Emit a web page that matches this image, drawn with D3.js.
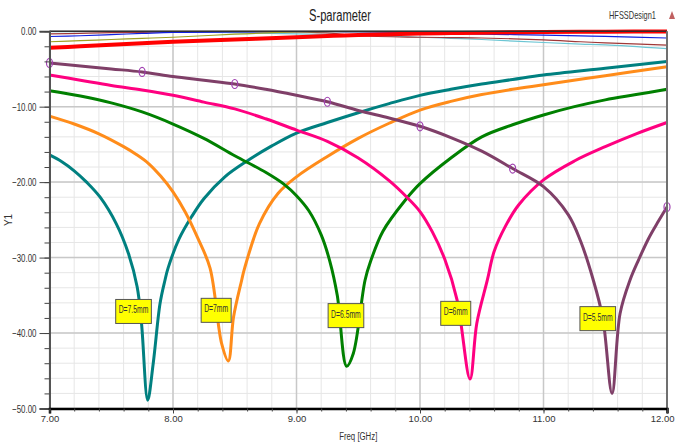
<!DOCTYPE html>
<html><head><meta charset="utf-8">
<script src="https://cdn.jsdelivr.net/npm/d3@7"></script>
<style>
body{margin:0;background:#fff;}
text{font-family:'Liberation Sans',Arial,sans-serif;}
</style></head>
<body><svg id="c" width="676" height="443"></svg>
<script>
// ---------- data ----------
const xTicks = [7, 8, 9, 10, 11, 12];
const yTicks = [0, -10, -20, -30, -40, -50];
const title = "S-parameter";
const designName = "HFSSDesign1";
const xLabel = "Freq [GHz]";
const yLabel = "Y1";

// D = 7.5 mm (teal)
const f75 = [7.0,7.1,7.2,7.3,7.41,7.54,7.64,7.71,7.745,7.795,7.84,7.895,7.935,7.96,8.05,8.15,8.25,8.42,8.6,8.8,9.0,9.25,9.5,9.75,10.0,10.25,10.5,10.75,11.0,11.5,12.0];
const s75 = [-16.4,-17.3,-18.5,-20.0,-22.0,-25.5,-29.5,-33.9,-38.7,-48.9,-44.0,-36.1,-33.0,-31.4,-27.5,-24.6,-22.2,-19.3,-17.2,-15.2,-13.5,-12.1,-10.8,-9.6,-8.5,-7.7,-7.0,-6.4,-5.8,-4.9,-4.0];
// D = 7 mm (orange)
const f70 = [7.0,7.2,7.4,7.6,7.7,7.8,7.9,8.0,8.1,8.2,8.3,8.394,8.448,8.49,8.556,8.58,8.7,8.85,9.0,9.25,9.5,9.75,10.0,10.25,10.5,10.75,11.0,11.5,12.0];
const s70 = [-11.25,-12.3,-13.6,-15.3,-16.3,-17.5,-19.2,-21.3,-24.0,-27.4,-31.4,-41.4,-43.7,-37.9,-33.0,-31.4,-25.5,-21.5,-19.3,-16.6,-14.2,-12.2,-10.45,-9.3,-8.4,-7.7,-7.1,-5.9,-4.7];
// D = 6.5 mm (green)
const f65 = [7.0,7.25,7.5,7.75,8.0,8.25,8.5,8.75,8.9,9.0,9.1,9.2,9.27,9.33,9.406,9.46,9.555,9.6,9.7,9.88,10.0,10.25,10.5,10.75,11.0,11.25,11.5,11.75,12.0];
const s65 = [-7.9,-8.6,-9.5,-10.7,-12.3,-14.2,-16.5,-18.7,-20.3,-21.8,-23.8,-27.0,-30.5,-35.0,-44.4,-42.7,-33.0,-30.5,-26.5,-22.4,-20.2,-16.8,-14.0,-12.4,-11.1,-10.0,-9.1,-8.4,-7.7];
// D = 6 mm (pink)
const f60 = [7.0,7.25,7.5,7.75,8.0,8.25,8.5,8.75,9.0,9.25,9.5,9.75,9.9,10.0,10.1,10.2,10.3,10.405,10.46,10.545,10.6,10.69,10.8,11.0,11.25,11.5,11.75,12.0];
const s60 = [-5.8,-6.5,-7.2,-7.8,-8.5,-9.4,-10.3,-11.6,-13.1,-14.6,-16.8,-19.8,-22.1,-23.9,-26.6,-30.2,-35.6,-46.1,-38.7,-33.0,-29.2,-25.9,-23.0,-19.7,-17.2,-15.3,-13.6,-12.1];
// D = 5.5 mm (purple)
const f55 = [7.0,7.25,7.5,7.75,8.0,8.25,8.5,8.75,9.0,9.25,9.5,9.75,10.0,10.25,10.5,10.75,11.0,11.2,11.3,11.4,11.48,11.555,11.62,11.7,11.77,11.85,11.93,12.0];
const s55 = [-4.2,-4.6,-5.0,-5.4,-6.0,-6.5,-7.0,-7.7,-8.5,-9.35,-10.5,-11.5,-12.6,-14.1,-15.9,-18.2,-20.6,-24.3,-27.8,-32.8,-38.0,-48.0,-37.4,-33.0,-30.3,-27.5,-25.2,-23.3];
const markF55 = [7.0, 7.75, 8.5, 9.25, 10.0, 10.75, 12.0];

// thin near-0 traces
const fThin = [7.0,7.25,7.5,7.75,8.0,8.5,9.0,9.3,9.5,10.0,10.25,10.5,11.0,11.3,11.5,12.0];
const sRed   = [-2.2,-2.0,-1.8,-1.6,-1.4,-1.1,-0.8,-0.6,-0.5,-0.3,-0.25,-0.2,-0.1,-0.08,-0.06,-0.05];
const sOlive = [-1.4,-1.25,-1.1,-0.95,-0.8,-0.4,-0.1,-0.05,-0.05,-0.05,-0.05,-0.05,-0.05,-0.05,-0.05,-0.05];
const sBlue  = [-0.7,-0.6,-0.45,-0.3,-0.15,-0.1,-0.05,-0.07,-0.1,-0.2,-0.3,-0.38,-0.52,-0.62,-0.68,-0.9];
const sBrown = [-0.35,-0.28,-0.2,-0.15,-0.1,-0.05,-0.1,-0.3,-0.6,-0.8,-0.85,-0.9,-1.15,-1.4,-1.55,-1.85];
const sCyan  = [-0.05,-0.06,-0.07,-0.08,-0.1,-0.2,-0.35,-0.45,-0.5,-0.8,-0.95,-1.1,-1.5,-1.7,-1.8,-2.3];

const labelText = ["D=7.5mm","D=7mm","D=6.5mm","D=6mm","D=5.5mm"];
const labelF = [7.536, 8.228, 9.256, 10.168, 11.295];
const labelDb = [-35.55, -35.4, -36.1, -35.8, -36.5];

// ---------- drawing ----------
const svg = d3.select("#c");
const x = d3.scaleLinear().domain([7, 12]).range([49.5, 667]);
const y = d3.scaleLinear().domain([-50, 0]).range([408.5, 31.2]);
const narrow = (sel, k) => sel.each(function() {
  const w = this.getComputedTextLength();
  d3.select(this).attr("textLength", w * k).attr("lengthAdjust", "spacingAndGlyphs");
});

// grid
const g = svg.append("g");
const minorX = d3.range(7, 12.001, 0.2).map(v => +v.toFixed(1));
const minorY = d3.range(-50, 0.001, 2);
g.selectAll(".mx").data(minorX).join("line")
  .attr("x1", d => x(d)).attr("x2", d => x(d)).attr("y1", y(0)).attr("y2", y(-50))
  .attr("stroke", "#e6e6e6").attr("stroke-width", 1);
g.selectAll(".my").data(minorY).join("line")
  .attr("y1", d => y(d)).attr("y2", d => y(d)).attr("x1", x(7)).attr("x2", x(12))
  .attr("stroke", "#e6e6e6").attr("stroke-width", 1);
g.selectAll(".Mx").data(xTicks).join("line")
  .attr("x1", d => x(d)).attr("x2", d => x(d)).attr("y1", y(0)).attr("y2", y(-50))
  .attr("stroke", "#c8c8c8").attr("stroke-width", 1.5);
g.selectAll(".My").data(yTicks).join("line")
  .attr("y1", d => y(d)).attr("y2", d => y(d)).attr("x1", x(7)).attr("x2", x(12))
  .attr("stroke", "#c8c8c8").attr("stroke-width", 1.5);

// curves
const line = d3.line().x(d => x(d[0])).y(d => y(d[1])).curve(d3.curveCatmullRom.alpha(0.5));
const zip = (a, b) => a.map((v, i) => [v, b[i]]);
const traces = [
  {f: fThin, s: sCyan, c: "#6cc6d4", w: 1.2},
  {f: fThin, s: sBrown, c: "#a03838", w: 1.2},
  {f: fThin, s: sBlue, c: "#1020e0", w: 1.2},
  {f: fThin, s: sOlive, c: "#a0a020", w: 1.2},
  {f: fThin, s: sRed, c: "#ff0000", w: 4},
  {f: f75, s: s75, c: "#008080", w: 3},
  {f: f70, s: s70, c: "#ff8c1a", w: 3},
  {f: f65, s: s65, c: "#008000", w: 3},
  {f: f60, s: s60, c: "#ff0080", w: 3},
  {f: f55, s: s55, c: "#7f3f68", w: 3}
];
const cg = svg.append("g");
traces.forEach(t => {
  cg.append("path").datum(zip(t.f, t.s)).attr("d", line)
    .attr("fill", "none").attr("stroke", t.c).attr("stroke-width", t.w)
    .attr("stroke-linejoin", "round");
});
// markers on D=5.5mm trace
const interp = (fa, sa, f) => {
  for (let i = 0; i < fa.length - 1; i++) {
    if (f >= fa[i] && f <= fa[i + 1]) {
      const t = (f - fa[i]) / (fa[i + 1] - fa[i]);
      return sa[i] + t * (sa[i + 1] - sa[i]);
    }
  }
  return sa[sa.length - 1];
};
cg.selectAll(".mk").data(markF55).join("ellipse")
  .attr("cx", d => x(d)).attr("cy", d => y(interp(f55, s55, d)))
  .attr("rx", 3).attr("ry", 4.5)
  .attr("fill", "none").attr("stroke", "#a040b0").attr("stroke-width", 1.2);

// frame
svg.append("line").attr("x1", x(7)).attr("x2", x(12)).attr("y1", y(0)).attr("y2", y(0))
  .attr("stroke", "#303030").attr("stroke-width", 1.5);
svg.append("line").attr("x1", x(12)).attr("x2", x(12)).attr("y1", y(0)).attr("y2", y(-50))
  .attr("stroke", "#707070").attr("stroke-width", 2);

// axes
const fmt = d3.format(".2f");
const yAx = svg.append("g").attr("transform", `translate(${x(7)},0)`)
  .call(d3.axisLeft(y).tickValues(yTicks).tickFormat(fmt).tickSize(10).tickPadding(3));
const yMin = svg.append("g").attr("transform", `translate(${x(7)},0)`)
  .call(d3.axisLeft(y).tickValues(minorY).tickFormat("").tickSize(5));
const xAx = svg.append("g").attr("transform", `translate(0,${y(-50)})`)
  .call(d3.axisBottom(x).tickValues(xTicks).tickFormat(fmt).tickSize(5).tickPadding(2));
const xMin = svg.append("g").attr("transform", `translate(0,${y(-50)})`)
  .call(d3.axisBottom(x).tickValues(minorX).tickFormat("").tickSize(3));
[yAx, yMin, xAx, xMin].forEach(a => {
  a.selectAll("text").attr("font-size", 11).attr("fill", "#333")
    .style("font-family", "'Liberation Sans',Arial,sans-serif");
  a.selectAll("line").attr("stroke", "#444");
});
narrow(yAx.selectAll("text"), 0.72);
xAx.selectAll("text").attr("font-size", 9.5);
xAx.selectAll(".tick text").filter(d => d === 12).attr("text-anchor", "end").attr("dx", 7);
yAx.select(".domain").attr("stroke", "#555").attr("stroke-width", 2);
yMin.select(".domain").remove();
xMin.select(".domain").remove();
xAx.select(".domain").attr("stroke", "#000").attr("stroke-width", 2.5);

// labels
const tt = svg.append("text").attr("x", 340).attr("y", 21).attr("text-anchor", "middle")
  .attr("font-size", 16).attr("fill", "#222").text(title);
tt.attr("textLength", 62).attr("lengthAdjust", "spacingAndGlyphs");
svg.append("text").attr("x", 609).attr("y", 19)
  .attr("font-size", 10.5).attr("fill", "#333").text(designName)
  .attr("textLength", 47).attr("lengthAdjust", "spacingAndGlyphs");
svg.append("path").attr("d", "M669,19 L672,11 L675,19 Z").attr("fill", "#c06060");
const xl = svg.append("text").attr("x", x(9.5)).attr("y", 440).attr("text-anchor", "middle")
  .attr("font-size", 10).attr("fill", "#333").text(xLabel);
narrow(xl, 0.78);
svg.append("text").attr("transform", "translate(12,220) rotate(-90)").attr("text-anchor", "middle")
  .attr("font-size", 10).attr("fill", "#333").text(yLabel);

// annotation boxes
labelText.forEach((t, i) => {
  const bx = x(labelF[i]), by = y(labelDb[i]);
  const gb = svg.append("g");
  const r = gb.append("rect").attr("x", bx).attr("y", by).attr("height", 24)
    .attr("fill", "#ffff00").attr("stroke", "#555").attr("stroke-width", 1);
  const tx = gb.append("text").attr("x", bx + 3).attr("y", by + 14)
    .attr("font-size", 10).attr("fill", "#333").text(t);
  const w = tx.node().getComputedTextLength() * 0.68;
  tx.attr("textLength", w).attr("lengthAdjust", "spacingAndGlyphs");
  r.attr("width", w + 6);
});
</script></body></html>
